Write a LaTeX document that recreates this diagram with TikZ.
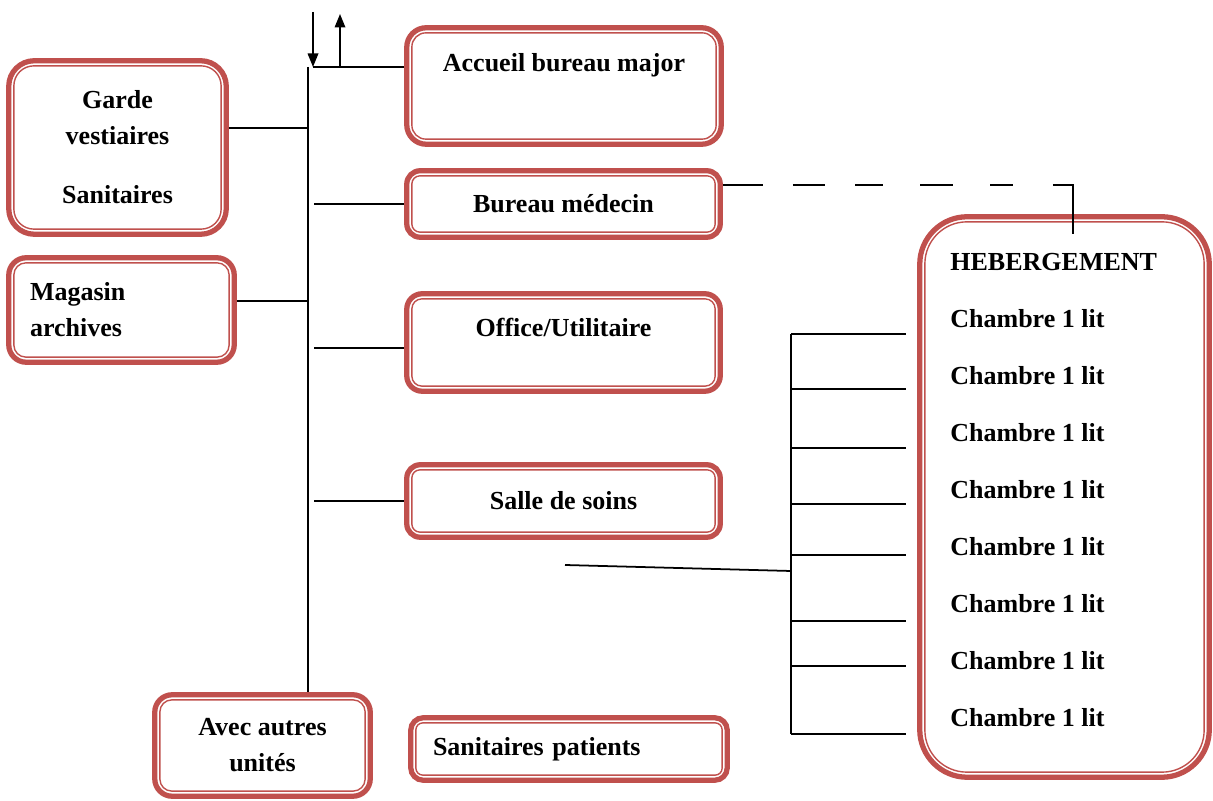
\documentclass[tikz,border=0pt]{standalone}
\usepackage{fontspec}
\setmainfont{Liberation Serif}
\usepackage{xcolor}
\usepackage{tikz}
\usetikzlibrary{positioning, arrows.meta, calc}

\definecolor{roomred}{HTML}{C0504D}

\begin{document}
\begin{tikzpicture}[
        room/.style={draw=roomred, line width=3pt, fill=white, rounded corners=#1,
            font=\fontsize{14.8}{20.5}\selectfont\bfseries, align=center},
        room/.default=0.3cm,
        roomline/.style={draw=roomred, line width=0.8pt, rounded corners=#1},
        roomtext/.style={font=\fontsize{14.8}{20.5}\selectfont\bfseries, inner sep=0pt},
        link/.style={line width=1pt},
        flow/.style={-{Triangle[length=0.27cm, width=0.21cm]}}
    ]
        \useasboundingbox (0,0) rectangle (24.26,16);

        % Draw rooms
        \node[room=0.39cm, minimum width=6.29cm, minimum height=2.33cm, text height=0.36cm, text depth=0.93cm] (accueil) at (11.28,14.28) {Accueil bureau major};
        \node[room=0.51cm, minimum width=4.35cm, minimum height=3.47cm] (garde) at (2.35,13.05) {Garde\\ vestiaires\\[0.46cm] Sanitaires};
        \node[room=0.35cm, minimum width=4.51cm, minimum height=2.09cm, text width=3.66cm, align=left] (magasin) at (2.43,9.80) {Magasin\\ archives};
        \node[room=0.27cm, minimum width=6.27cm, minimum height=1.33cm] (medecin) at (11.27,11.92) {Bureau médecin};
        \node[room=0.31cm, minimum width=6.27cm, minimum height=1.95cm, text height=0.36cm, text depth=0.59cm] (office) at (11.27,9.15) {Office/Utilitaire};
        \node[room=0.27cm, minimum width=6.27cm, minimum height=1.45cm] (salle) at (11.27,5.98) {Salle de soins};
        \node[room=0.35cm, minimum width=4.31cm, minimum height=2.03cm] (autres) at (5.25,1.09) {Avec autres\\ unités};
        \node[room=0.25cm, minimum width=6.33cm, minimum height=1.25cm, text width=5.44cm, align=left] (sanpat) at (11.38,1.02) {Sanitaires patients};
        \node[room=0.95cm, minimum width=5.79cm, minimum height=11.21cm] (heberg) at (21.29,6.06) {};

        % Inner border of the rooms
        \foreach \n/\r in {accueil/0.28cm, garde/0.40cm, magasin/0.24cm, medecin/0.16cm, office/0.20cm,
                           salle/0.16cm, autres/0.24cm, sanpat/0.14cm, heberg/0.84cm}
            \draw[roomline=\r] ([shift={(0.155,0.155)}]\n.south west) rectangle ([shift={(-0.155,-0.155)}]\n.north east);

        % Hebergement
        \node[roomtext, anchor=west] (hebergement) at (19.00,10.76) {HEBERGEMENT};
        \foreach \i in {1,...,8}
            \node[roomtext, anchor=west] (chambre\i) at (19.00,{9.62-(\i-1)*1.14}) {Chambre 1 lit};

        % Main corridor
        \coordinate (hub) at (6.16,14.66);
        \coordinate (tap) at (6.28,14.66);
        \coordinate (entry) at (6.26,15.76);
        \coordinate (exit) at (6.80,15.72);
        \draw[link] (hub) -- (hub |- autres.north);
        \draw[link, flow] (entry) -- (entry |- hub);
        \draw[link, flow] (exit |- hub) -- (exit);
        \draw[link] (entry |- hub) -- (accueil.west |- hub);

        % Branches
        \draw[link] (garde.east |- 0,13.44) -- (hub |- 0,13.44);
        \draw[link] (magasin.east |- 0,9.98) -- (hub |- 0,9.98);
        \draw[link] (tap |- medecin.west) -- (medecin.west);
        \draw[link] (tap |- 0,9.04) -- (office.west |- 0,9.04);
        \draw[link] (tap |- salle.west) -- (salle.west);

        % Link to the rooms
        \coordinate (turn) at (21.46,12.30);
        \draw[link, dash pattern=on 0.8cm off 0.6cm on 0.65cm off 0.6cm on 0.55cm off 0.75cm on 0.65cm off 0.75cm on 0.45cm off 0.8cm on 2cm]
            (medecin.east |- turn) -- (turn) -- (turn |- 0,11.32);

        \coordinate (feed) at (11.30,4.70);
        \coordinate (comb) at (15.82,4.58);
        \coordinate (combend) at ([xshift=-0.22cm]heberg.west);
        \draw[link] (feed) -- (comb);
        \draw[link] (comb |- 0,9.32) -- (comb |- 0,1.32);
        \foreach \y in {9.32,8.22,7.04,5.92,4.90,3.58,2.68,1.32}
            \draw[link] (comb |- 0,\y) -- (combend |- 0,\y);
    \end{tikzpicture}
\end{document}
